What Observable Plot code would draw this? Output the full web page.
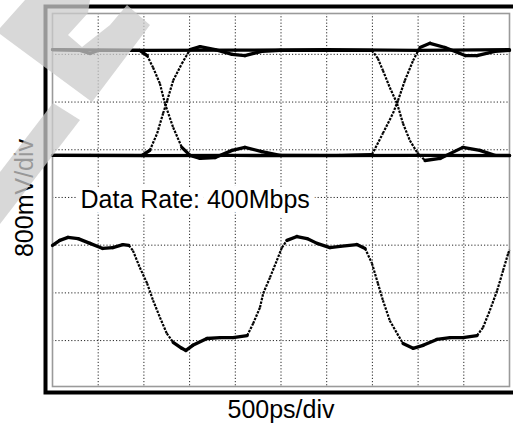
<!DOCTYPE html>
<html><head><meta charset="utf-8">
<script src="https://cdn.jsdelivr.net/npm/d3@7"></script>
<script src="https://cdn.jsdelivr.net/npm/@observablehq/plot@0.6"></script>
<style>
html,body{margin:0;padding:0;background:#fff;}
#wrap{position:relative;width:513px;height:432px;overflow:hidden;}
#wm{position:absolute;left:0;top:0;pointer-events:none;}
</style></head><body><div id="wrap"></div>
<script>
// Graticule: 500 ps/div horizontally, 800 mV/div vertically
const xTicks = [-2000, -1500, -1000, -500, 0, 500, 1000, 1500, 2000];
const yTicks = [-2400, -1600, -800, 0, 800, 1600, 2400];
const xLabel = "500ps/div";
const yLabel = "800mV/div";
const rateLabel = "Data Rate: 400Mbps";

// Eye diagram (upper trace): time in ps, voltage in mV
const eyeHighT = [-2500, -1500, -500, 500, 1500, 2500];
const eyeHighV = [2480, 2465, 2470, 2480, 2465, 2480];
const eyeLowT = [-2500, -1500, -500, 500, 1500, 2500];
const eyeLowV = [705, 700, 705, 700, 705, 700];
const eyeFallRiseT = [-2500,-2200,-2090,-2000,-1545,-1465,-1400,-1325,-1270,-1180,-1085,-995,-885,-720,-535,-395,-210,-10,645,995,1115,1225,1280,1355,1445,1520,1630,1795,2015,2145,2340,2500];
const eyeFallRiseV = [2480,2465,2415,2465,2465,2380,2180,1910,1575,1175,840,705,655,670,790,840,770,705,705,720,1075,1410,1625,1960,2295,2515,2585,2515,2380,2380,2450,2465];
const eyeRiseFallT = [-2500,-2090,-1520,-1435,-1355,-1290,-1245,-1180,-1085,-995,-885,-720,-535,-395,-210,-10,645,995,1060,1115,1190,1270,1335,1410,1490,1575,1740,1990,2175,2340,2500];
const eyeRiseFallV = [705,705,705,790,1075,1410,1625,1960,2245,2480,2530,2480,2400,2380,2450,2465,2465,2465,2330,2130,1845,1575,1240,955,755,620,655,840,790,705,705];

// Lower waveform: time in ps, voltage in mV
const waveT = [-2500,-2420,-2330,-2220,-2090,-1950,-1840,-1730,-1665,-1620,-1545,-1465,-1400,-1325,-1250,-1180,-1085,-1040,-965,-810,-665,-525,-370,-305,-230,-195,-120,-45,10,65,175,285,395,535,645,830,920,995,1060,1115,1190,1270,1335,1445,1555,1705,1850,1990,2145,2210,2285,2365,2430,2485,2500];
const waveV = [-805,-720,-670,-690,-770,-855,-840,-790,-805,-890,-1175,-1440,-1725,-2010,-2280,-2430,-2530,-2565,-2480,-2365,-2350,-2350,-2315,-2115,-1845,-1610,-1340,-1055,-840,-720,-655,-690,-770,-840,-820,-790,-855,-1105,-1440,-1725,-2065,-2280,-2450,-2530,-2480,-2380,-2350,-2350,-2315,-2180,-1895,-1560,-1225,-940,-880];

function segments(T, V) {
  const s = [];
  for (let i = 0; i < T.length - 1; i++) {
    const slope = Math.abs(V[i + 1] - V[i]) / Math.abs(T[i + 1] - T[i]);
    s.push({t1: T[i], v1: V[i], t2: T[i + 1], v2: V[i + 1], steep: slope > 1.5});
  }
  return s;
}
const segs = [
  ...segments(eyeHighT, eyeHighV),
  ...segments(eyeLowT, eyeLowV),
  ...segments(eyeFallRiseT, eyeFallRiseV),
  ...segments(eyeRiseFallT, eyeRiseFallV),
  ...segments(waveT, waveV)
];

const font = "'Liberation Sans', Arial, Helvetica, sans-serif";
const chart = Plot.plot({
  width: 513, height: 432,
  marginTop: 13, marginRight: 4, marginBottom: 46, marginLeft: 52,
  x: {domain: [-2500, 2500], axis: null},
  y: {domain: [-3170, 3085], axis: null},
  style: {fontFamily: font, background: "white"},
  marks: [
    Plot.ruleX(xTicks, {stroke: "#111", strokeWidth: 1, strokeDasharray: "1.2,2", strokeOpacity: 0.9}),
    Plot.ruleY(yTicks, {stroke: "#111", strokeWidth: 1, strokeDasharray: "1.2,2", strokeOpacity: 0.9}),
    Plot.frame({stroke: "#9a9a9a", strokeWidth: 1.6}),
    Plot.frame({stroke: "black", strokeWidth: 4, insetTop: -7, insetLeft: -7, insetBottom: -6, insetRight: -16}),
    Plot.link(segs.filter(d => !d.steep), {x1: "t1", y1: "v1", x2: "t2", y2: "v2", stroke: "black", strokeWidth: 3.3, strokeLinecap: "round"}),
    Plot.link(segs.filter(d => d.steep), {x1: "t1", y1: "v1", x2: "t2", y2: "v2", stroke: "black", strokeWidth: 2.2, strokeDasharray: "2.5,1.2"}),
    Plot.text([rateLabel], {text: d => d, frameAnchor: "left", dx: 28, textAnchor: "start", lineAnchor: "middle", fontSize: 25, fill: "black", stroke: "white", strokeWidth: 12, strokeLinejoin: "round", paintOrder: "stroke"}),
    Plot.text([xLabel], {text: d => d, frameAnchor: "bottom", dy: 23, lineAnchor: "middle", textAnchor: "middle", fontSize: 25, fill: "black"}),
    Plot.text([yLabel], {text: d => d, frameAnchor: "left", dx: -28, dy: -2, rotate: -90, textAnchor: "middle", lineAnchor: "middle", fontSize: 25, fill: "black"})
  ]
});
const wrap = document.getElementById("wrap");
wrap.appendChild(chart);

// decorative scan watermark (light grey stripes at the top-left of the original)
const watermark = [
  [[25,0],[90,0],[88,13],[68,35],[82,47],[110,25],[127,5],[150,25],[92,102],[8,40],[0,34],[0,28]],
  [[53,103],[80,120],[0,224],[0,172]]
];
const ns = "http://www.w3.org/2000/svg";
const wm = document.createElementNS(ns, "svg");
wm.setAttribute("id", "wm");
wm.setAttribute("width", 513);
wm.setAttribute("height", 432);
for (const poly of watermark) {
  const p = document.createElementNS(ns, "polygon");
  p.setAttribute("points", poly.map(q => q.join(",")).join(" "));
  p.setAttribute("fill", "rgb(203,203,203)");
  p.setAttribute("fill-opacity", "0.75");
  wm.appendChild(p);
}
wrap.appendChild(wm);
</script></body></html>
